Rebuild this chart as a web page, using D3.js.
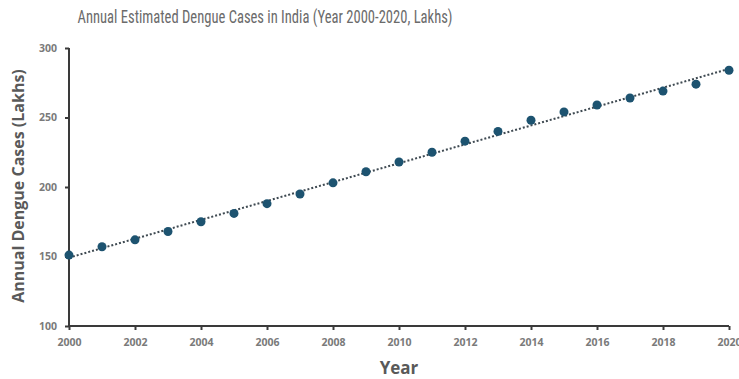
<!DOCTYPE html>
<html>
<head>
<meta charset="utf-8">
<script src="https://cdn.jsdelivr.net/npm/d3@7/dist/d3.min.js"></script>
<style>
  html, body { margin: 0; padding: 0; background: #ffffff; }
  svg { display: block; }
</style>
</head>
<body>
<svg id="chart" width="739" height="379"></svg>
<script>
// Annual estimated dengue cases in India, in lakhs
const years = [2000, 2001, 2002, 2003, 2004, 2005, 2006, 2007, 2008, 2009, 2010,
               2011, 2012, 2013, 2014, 2015, 2016, 2017, 2018, 2019, 2020];
const cases = [151, 157, 162, 168, 175, 181, 188, 195, 203, 211, 218,
               225, 233, 240, 248, 254, 259, 264, 269, 274, 284];
const xTicks = [2000, 2002, 2004, 2006, 2008, 2010, 2012, 2014, 2016, 2018, 2020];
const yTicks = [100, 150, 200, 250, 300];

const svg = d3.select("#chart");
const plot = { left: 69, right: 729, top: 48, bottom: 326 };

const x = d3.scaleLinear().domain([2000, 2020]).range([plot.left, plot.right]);
const y = d3.scaleLinear().domain([100, 300]).range([plot.bottom, plot.top]);

const textGray = "#595959";
const axisColor = "#3a3a3a";
const markColor = "#1d5370";

// Title
svg.append("text")
  .attr("x", 265).attr("y", 23)
  .attr("text-anchor", "middle")
  .attr("font-family", "'Liberation Sans Narrow', 'Roboto Condensed', 'Liberation Sans', sans-serif")
  .attr("font-size", 17.5)
  .attr("fill", "#6b6b6b")
  .attr("textLength", 375)
  .attr("lengthAdjust", "spacingAndGlyphs")
  .text("Annual Estimated Dengue Cases in India (Year 2000-2020, Lakhs)");

// Linear trend line (least squares)
const mx = d3.mean(years), my = d3.mean(cases);
const slope = d3.sum(years, (v, i) => (v - mx) * (cases[i] - my)) / d3.sum(years, v => (v - mx) ** 2);
const intercept = my - slope * mx;
const trend = [2000, 2020].map(t => [t, intercept + slope * t]);

svg.append("path")
  .datum(trend)
  .attr("d", d3.line().x(d => x(d[0])).y(d => y(d[1])))
  .attr("fill", "none")
  .attr("stroke", "#3f4a52")
  .attr("stroke-width", 2)
  .attr("stroke-dasharray", "2,2");

// Axes
const yAxis = svg.append("g")
  .attr("transform", `translate(${plot.left},0)`)
  .call(d3.axisLeft(y).tickValues(yTicks).tickSize(4).tickPadding(8).tickFormat(d3.format("d")));
const xAxis = svg.append("g")
  .attr("transform", `translate(0,${plot.bottom})`)
  .call(d3.axisBottom(x).tickValues(xTicks).tickSize(4).tickPadding(9).tickFormat(d3.format("d")));

[yAxis, xAxis].forEach(g => {
  g.select(".domain").attr("stroke", axisColor).attr("stroke-width", 2);
  g.selectAll(".tick line").attr("stroke", axisColor).attr("stroke-width", 2);
  g.selectAll(".tick text")
    .attr("fill", "#7a7a7a")
    .attr("font-family", "'Open Sans', 'DejaVu Sans', sans-serif")
    .attr("font-weight", "bold")
    .attr("font-size", 10.5);
});
// Plain axis lines without end caps
yAxis.select(".domain").attr("d", `M0,${plot.bottom}V${plot.top}`);
xAxis.select(".domain").attr("d", `M${plot.left},0H${plot.right}`);

// Data points
svg.append("g")
  .selectAll("circle")
  .data(years)
  .join("circle")
  .attr("cx", d => x(d))
  .attr("cy", (d, i) => y(cases[i]))
  .attr("r", 4.5)
  .attr("fill", markColor);

// Axis titles
svg.append("text")
  .attr("transform", `translate(24,${(plot.top + plot.bottom) / 2 - 1}) rotate(-90)`)
  .attr("text-anchor", "middle")
  .attr("font-family", "'Open Sans', 'Liberation Sans', sans-serif")
  .attr("font-weight", "bold")
  .attr("font-size", 16)
  .attr("fill", textGray)
  .text("Annual Dengue Cases (Lakhs)");

svg.append("text")
  .attr("x", 399).attr("y", 374)
  .attr("text-anchor", "middle")
  .attr("font-family", "'Open Sans', 'Liberation Sans', sans-serif")
  .attr("font-weight", "bold")
  .attr("font-size", 17)
  .attr("fill", textGray)
  .text("Year");
</script>
</body>
</html>
